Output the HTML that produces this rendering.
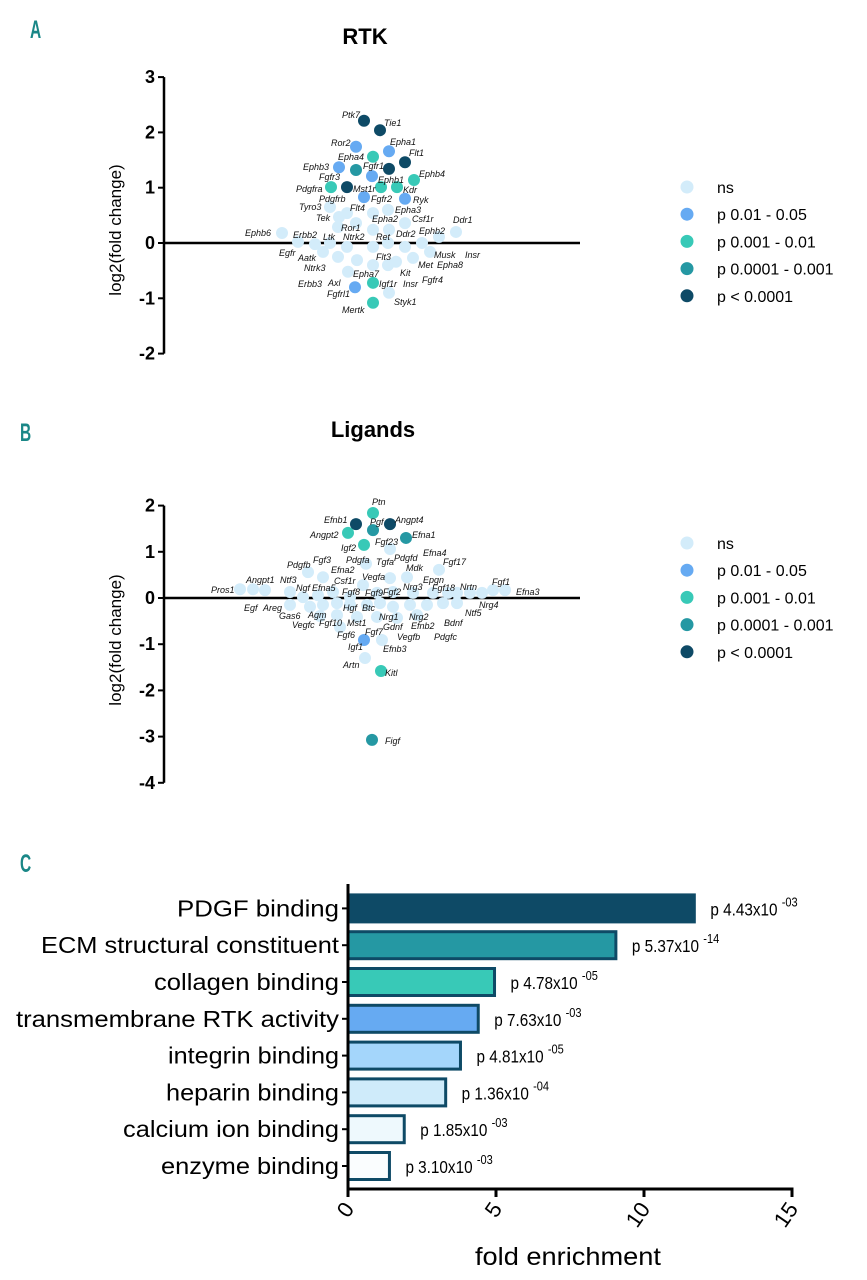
<!DOCTYPE html>
<html><head><meta charset="utf-8"><style>
body{margin:0;background:#fff;width:867px;height:1280px;overflow:hidden}
svg{display:block;font-family:"Liberation Sans",sans-serif}
.lbl{font-size:9px;font-style:italic;fill:#111;font-weight:500}
</style></head><body>
<svg id="fig" width="867" height="1280" viewBox="0 0 867 1280">
<text x="30" y="38" font-size="25" font-weight="bold" fill="#1a8787" transform="translate(30,38) scale(0.62,1) translate(-30,-38)">A</text>
<text x="20" y="441" font-size="25" font-weight="bold" fill="#1a8787" transform="translate(20,441) scale(0.62,1) translate(-20,-441)">B</text>
<text x="20" y="872" font-size="25" font-weight="bold" fill="#1a8787" transform="translate(20,872) scale(0.62,1) translate(-20,-872)">C</text>
<text x="365" y="44" font-size="22" font-weight="bold" text-anchor="middle">RTK</text>
<text x="373" y="437" font-size="22" font-weight="bold" text-anchor="middle">Ligands</text>
<g id="gA"></g><g id="gB"></g><g id="gC"></g>
</svg>
<script>
const NS="http://www.w3.org/2000/svg";
const pColors=["#d3ecfa","#66aaf2","#38c9b7","#2598a3","#0e4a66"];
const pLabels=["ns","p 0.01 - 0.05","p 0.001 - 0.01","p 0.0001 - 0.001","p < 0.0001"];

// Panel A (RTK) data: jitter position, log2 fold change, significance class
const rtkJitter=[364,380,356,389,373,405,339,356,389,372,414,331,347,381,397,364,405,373,355,373,
 330,339,347,373,388,338,356,373,389,405,439,456,282,298,315,330,347,373,388,405,422,430,323,338,357,373,396,413,348,388,389];
const rtkValues=[2.21,2.04,1.74,1.66,1.56,1.46,1.37,1.32,1.34,1.21,1.14,1.01,1.01,1.01,1.01,0.83,0.80,-0.72,-0.80,-1.08,
 0.65,0.47,0.54,0.54,0.60,0.29,0.36,0.24,0.24,0.36,0.11,0.20,0.18,0.02,-0.02,0,-0.07,-0.07,0,-0.07,0,-0.16,-0.16,-0.25,-0.31,-0.40,-0.34,-0.27,-0.52,-0.40,-0.90];
const rtkClass=[4,4,1,1,2,4,1,3,4,1,2,2,4,2,2,1,1,2,1,2,
 0,0,0,0,0,0,0,0,0,0,0,0,0,0,0,0,0,0,0,0,0,0,0,0,0,0,0,0,0,0,0];
const rtkLabels=[["Ptk7",342,115],["Tie1",384,123],["Ror2",331,143],["Epha1",390,142],["Epha4",338,157],["Flt1",409,153],["Ephb3",303,167],["Fgfr1",363,166],["Fgfr3",319,177],["Ephb4",419,174],["Ephb1",378,180],["Pdgfra",296,189],["Mst1r",353,189],["Kdr",403,190],["Pdgfrb",319,199],["Fgfr2",371,199],["Ryk",413,200],["Tyro3",299,207],["Flt4",350,208],["Epha3",395,210],["Tek",316,218],["Epha2",372,219],["Csf1r",412,219],["Ddr1",453,220],["Ror1",341,228],["Ephb6",245,233],["Erbb2",293,235],["Ltk",323,237],["Ntrk2",343,237],["Ret",376,237],["Ddr2",396,234],["Ephb2",419,231],["Egfr",279,253],["Aatk",298,258],["Musk",434,255],["Insr",465,255],["Flt3",376,257],["Ntrk3",304,268],["Met",418,265],["Epha8",437,265],["Kit",400,273],["Erbb3",298,284],["Axl",328,283],["Epha7",353,274],["Insr",403,284],["Fgfr4",422,280],["Igf1r",379,284],["Fgfrl1",327,294],["Styk1",394,302],["Mertk",342,310]];

// Panel B (Ligands)
const ligJitter=[373,356,373,390,348,406,364,364,381,372,
 390,308,323,366,390,407,439,240,253,265,290,303,318,333,350,363,377,393,413,433,448,457,470,482,493,505,
 290,310,323,337,350,367,380,393,410,427,443,457,320,337,357,377,397,417,382,365,340];
const ligValues=[1.84,1.60,1.47,1.60,1.41,1.30,1.15,-0.91,-1.58,-3.07,
 1.06,0.56,0.45,0.74,0.43,0.45,0.61,0.19,0.19,0.17,0.13,0.02,0.06,0.13,0.02,0.28,0.11,0.13,0.11,0.11,0.11,0.11,0.11,0.11,0.17,0.17,
 -0.15,-0.19,-0.15,-0.11,-0.15,-0.15,-0.11,-0.19,-0.15,-0.15,-0.11,-0.11,-0.39,-0.37,-0.41,-0.41,-0.43,-0.37,-0.91,-1.30,-0.63];
const ligClass=[2,4,3,4,2,3,2,1,2,3,
 0,0,0,0,0,0,0,0,0,0,0,0,0,0,0,0,0,0,0,0,0,0,0,0,0,0,0,0,0,0,0,0,0,0,0,0,0,0,0,0,0,0,0,0,0,0,0];
const ligLabels=[["Ptn",372,502],["Efnb1",324,520],["Pgf",370,522],["Angpt4",395,520],["Angpt2",310,535],["Efna1",412,535],["Fgf23",375,542],["Igf2",341,548],["Fgf3",313,560],["Efna4",423,553],["Pdgfb",287,565],["Pdgfa",346,560],["Tgfa",376,562],["Pdgfd",394,558],["Fgf17",443,562],["Efna2",331,570],["Mdk",406,568],["Vegfa",362,577],["Angpt1",246,580],["Ntf3",280,580],["Epgn",423,580],["Csf1r",334,581],["Pros1",211,590],["Ngf",296,588],["Efna5",312,588],["Nrg3",403,587],["Fgf18",432,588],["Nrtn",460,587],["Fgf1",492,582],["Efna3",516,592],["Fgf8",342,592],["Fgf9",365,593],["Fgf2",383,592],["Egf",244,608],["Areg",263,608],["Nrg4",479,605],["Hgf",343,608],["Btc",362,608],["Gas6",279,616],["Agm",308,615],["Nrg1",379,617],["Nrg2",409,617],["Ntf5",465,613],["Vegfc",292,625],["Fgf10",319,623],["Mst1",347,623],["Efnb2",411,626],["Bdnf",444,623],["Gdnf",383,627],["Fgf6",337,635],["Fgf7",365,632],["Vegfb",397,637],["Pdgfc",434,637],["Efnb3",383,649],["Igf1",348,647],["Artn",343,665],["Kitl",385,673],["Figf",385,741]];

// Panel C
const goTerms=["PDGF binding","ECM structural constituent","collagen binding","transmembrane RTK activity","integrin binding","heparin binding","calcium ion binding","enzyme binding"];
const goFold=[11.7,9.05,4.95,4.4,3.8,3.3,1.9,1.4];
const goP=["4.43","5.37","4.78","7.63","4.81","1.36","1.85","3.10"];
const goExp=["-03","-14","-05","-03","-05","-04","-03","-03"];
const goTicks=[0,5,10,15];
const goFill=["#0e4a66","#2598a3","#38c9b7","#66aaf2","#a4d6fb","#cfebfa","#eef9fd","#fafdfe"];
const termWidth=[162,298,185,323,171,173,216,178];

function el(tag,attrs,parent,text){const e=document.createElementNS(NS,tag);for(const k in attrs)e.setAttribute(k,attrs[k]);if(text!==undefined)e.textContent=text;parent.appendChild(e);return e;}

function scatter(g,o){
  const yS=v=>o.y0-v*o.unit;
  const xS=j=>o.xl+(j-o.jmin)/(o.jmax-o.jmin)*(o.xr-o.xl);
  const ax=el("line",{x1:o.xa,x2:o.xa,y1:yS(o.ticks[0]),y2:yS(o.ticks[o.ticks.length-1]),stroke:"#000","stroke-width":2.5},g);
  
  
  o.ticks.forEach(t=>{
    const tk=el("line",{x1:o.xa-6,x2:o.xa,y1:yS(t),y2:yS(t),stroke:"#000","stroke-width":2},g);
    
    
    const tl=el("text",{x:o.xa-9,y:yS(t)+6,"text-anchor":"end","font-size":18,"font-weight":"bold"},g,String(t));
    
    
  });
  const zl=el("line",{x1:o.xa,x2:580,y1:yS(0),y2:yS(0),stroke:"#000","stroke-width":2.5},g);
  
  
  const yt=el("text",{x:0,y:0,transform:`translate(${o.xa-43},${o.ytitle}) rotate(-90)`,"text-anchor":"middle","font-size":17},g,"log2(fold change)");
  
  
  const idx=o.jit.map((_,i)=>i).sort((a,b)=>o.cls[a]-o.cls[b]);
  idx.forEach(i=>{
    const c=el("circle",{cx:xS(o.jit[i]),cy:yS(o.val[i]),r:6,fill:pColors[o.cls[i]]},g);
    
    
  });
  o.labels.forEach(l=>{
    const t=el("text",{x:l[1],y:l[2]+3,class:"lbl"},g,l[0]);
    
    
  });
  pLabels.forEach((s,k)=>{
    const c=el("circle",{cx:687,cy:o.leg+k*27.2,r:6.5,fill:pColors[k]},g);
    
    
    const t=el("text",{x:717,y:o.leg+k*27.2+6,"font-size":16},g,s);
    
    
  });
}
scatter(document.getElementById("gA"),{y0:243,unit:55.3,xa:164,ticks:[3,2,1,0,-1,-2],ytitle:230,jit:rtkJitter,val:rtkValues,cls:rtkClass,labels:rtkLabels,leg:187,jmin:164,jmax:580,xl:164,xr:580});
scatter(document.getElementById("gB"),{y0:598,unit:46.2,xa:164,ticks:[2,1,0,-1,-2,-3,-4],ytitle:640,jit:ligJitter,val:ligValues,cls:ligClass,labels:ligLabels,leg:543,jmin:164,jmax:580,xl:164,xr:580});

(function(){
  const g=document.getElementById("gC");
  const x0=348,x15=792,xS=v=>x0+v/15*(x15-x0);
  const top=890,step=36.8,bh=27,axY=1189;
  goTerms.forEach((t,i)=>{
    const cy=top+step*i+step/2;
    const r=el("rect",{x:xS(0),y:cy-bh/2,width:xS(goFold[i])-xS(0),height:bh,fill:goFill[i],stroke:"#0e4a66","stroke-width":3},g);
    
    
    const tk=el("line",{x1:x0-6,x2:x0,y1:cy,y2:cy,stroke:"#000","stroke-width":2},g);
    
    
    const lb=el("text",{x:x0-9,y:cy+8,"text-anchor":"end","font-size":23,textLength:termWidth[i],lengthAdjust:"spacingAndGlyphs"},g,t);
    
    
    const pv=el("text",{x:0,y:0,transform:`translate(${xS(goFold[i])+16},${cy+7}) scale(0.85,1)`,"font-size":18},g);
    
    
    el("tspan",{},pv,"p "+goP[i]+"x10 ");
    el("tspan",{dy:-9,"font-size":13},pv,goExp[i]);
  });
  const ya=el("line",{x1:x0,x2:x0,y1:884,y2:axY+1,stroke:"#000","stroke-width":3},g);
  
  
  const xa=el("line",{x1:x0-1.5,x2:x15+1.5,y1:axY,y2:axY,stroke:"#000","stroke-width":3},g);
  
  
  goTicks.forEach(t=>{
    const tk=el("line",{x1:xS(t),x2:xS(t),y1:axY,y2:axY+8,stroke:"#000","stroke-width":3},g);
    
    
    const tl=el("text",{x:0,y:0,transform:`translate(${xS(t)+7},${axY+20}) rotate(-55)`,"text-anchor":"end","font-size":22},g,String(t));
    
    
  });
  const xt=el("text",{x:568,y:1265,"text-anchor":"middle","font-size":25,textLength:186,lengthAdjust:"spacingAndGlyphs"},g,"fold enrichment");
  
  
})();
</script>
</body></html>
